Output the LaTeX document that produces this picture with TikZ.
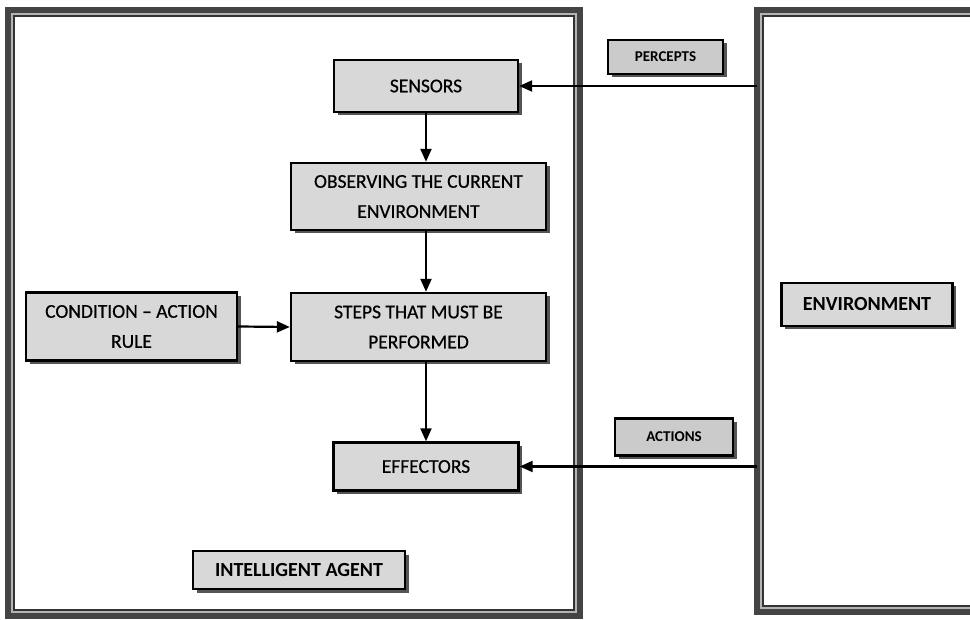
\documentclass[tikz,border=0pt]{standalone}
\usepackage{fontspec}
\setmainfont{Carlito}
\newfontfamily\boxfont[Ligatures=TeX,RawFeature={embolden=0.6}]{Carlito}
\usetikzlibrary{arrows.meta,shadows}
\definecolor{boxfill}{HTML}{D8D8D8}
\definecolor{smallfill}{HTML}{CBCBCB}
\definecolor{shadowgray}{HTML}{555555}
\definecolor{framedark}{HTML}{444444}
\definecolor{framelight}{HTML}{B4B4B4}
\tikzset{
  stepbox/.style={draw=black, line width=2.4pt, fill=boxfill, align=center,
    inner sep=0pt, font=\boxfont\fontsize{19.5}{30}\selectfont,
    drop shadow={shadow xshift=3.5pt, shadow yshift=-3.5pt, fill=shadowgray, opacity=1}},
  boldbox/.style={stepbox, font=\bfseries\fontsize{20}{24}\selectfont},
  tagbox/.style={stepbox, fill=smallfill, font=\bfseries\fontsize{15}{18}\selectfont},
  flow/.style={line width=2.2pt, -{Triangle[length=13pt,width=11pt]}},
  framedark/.style={draw=framedark, line width=6.5pt},
  framelight/.style={draw=framelight, line width=1.8pt},
  framethin/.style={draw=black!80, line width=1.4pt}
}
\begin{document}
\begin{tikzpicture}[x=1pt,y=-1pt]
\useasboundingbox (0,0) rectangle (970,620);
\clip (0,0) rectangle (970,620);
\fill[white] (0,0) rectangle (970,620);

% agent frame (triple border)
\draw[framedark]  (8,10) rectangle (580,616);
\draw[framelight] (12,14) rectangle (576,612);
\draw[framethin]  (14,16) rectangle (574,610);

% environment frame, running off the right edge
\draw[framedark]  (757,10) rectangle (1000,612);
\draw[framelight] (761,14) rectangle (1000,608);
\draw[framethin]  (763,16) rectangle (1000,606);

% boxes inside the agent
\node[stepbox, minimum width=184pt, minimum height=52pt] (sensors) at (426,86) {SENSORS};
\node[stepbox, minimum width=255pt, minimum height=67pt] (observe) at (418.5,196.5) {OBSERVING THE CURRENT\\ENVIRONMENT};
\node[stepbox, minimum width=255pt, minimum height=68pt] (steps) at (418.5,327) {STEPS THAT MUST BE\\PERFORMED};
\node[stepbox, minimum width=211pt, minimum height=68pt] (cond) at (131.5,326.5) {CONDITION – ACTION\\RULE};
\node[stepbox, minimum width=185pt, minimum height=48pt] (effect) at (426,466.5) {EFFECTORS};
\node[boldbox, minimum width=212pt, minimum height=38pt] (agent) at (299,570) {INTELLIGENT AGENT};

% labels between agent and environment
\node[tagbox, minimum width=115pt, minimum height=34pt] (percepts) at (665.5,57) {PERCEPTS};
\node[tagbox, minimum width=118pt, minimum height=37pt] (actions) at (674,437) {ACTIONS};

% environment label
\node[boldbox, minimum width=171pt, minimum height=43pt] (env) at (867,304.5) {ENVIRONMENT};

% connectors
\coordinate (envtop) at (757,86);
\coordinate (envbot) at (757,466.5);
\draw[flow] (envtop) -- (sensors.east);
\draw[flow] (envbot) -- (effect.east);
\draw[flow] (sensors.south) -- (sensors.south |- observe.north);
\draw[flow] (observe.south -| sensors.south) -- (steps.north -| sensors.south);
\draw[flow] (steps.south -| effect.north) -- (effect.north);
\draw[flow] (cond.east) -- (steps.west);
\end{tikzpicture}
\end{document}
